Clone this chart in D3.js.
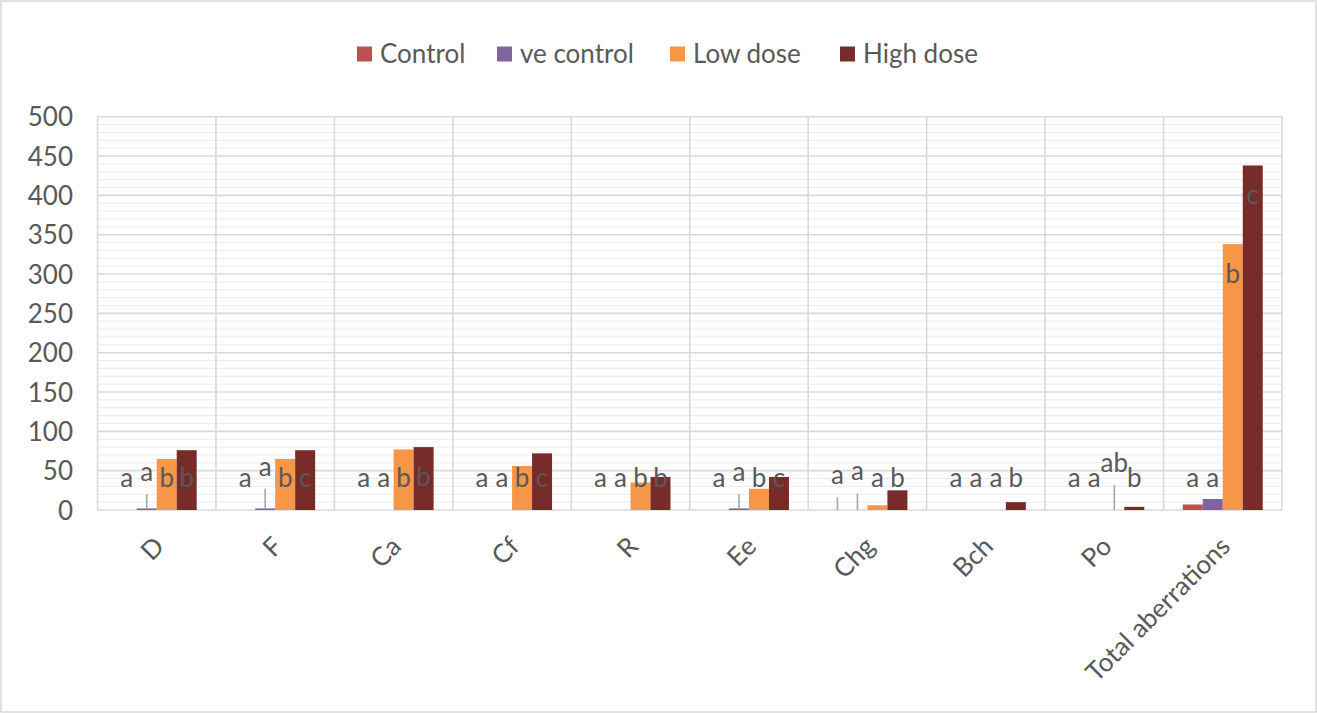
<!DOCTYPE html>
<html>
<head>
<meta charset="utf-8">
<script src="https://cdn.jsdelivr.net/npm/d3@7"></script>
<style>
  html, body { margin: 0; padding: 0; background: #fff; }
  svg { display: block; }
  text { font-family: Lato, "Open Sans", sans-serif; fill: #595959; }
</style>
</head>
<body>
<svg id="chart" width="1317" height="713"></svg>
<script>
// ---- data ----
const categories = ["D", "F", "Ca", "Cf", "R", "Ee", "Chg", "Bch", "Po", "Total aberrations"];
const seriesNames = ["Control", "ve control", "Low dose", "High dose"];
const control   = [0, 0, 0, 0, 0, 0, 0, 0, 0, 7];
const veControl = [2, 2, 0, 0, 0, 2, 0, 0, 0, 14];
const lowDose   = [65, 65, 77, 56, 35, 27, 6, 0, 0, 338];
const highDose  = [76, 76, 80, 72, 42, 42, 25, 10, 4, 438];
const controlErr   = [0, 0, 0, 0, 0, 0, 16, 0, 0, 0];
const veControlErr = [18, 25, 0, 0, 0, 18, 21, 0, 0, 0];
const lowDoseErr   = [0, 0, 0, 0, 0, 0, 0, 0, 32, 0];
const highDoseErr  = [0, 0, 0, 0, 0, 0, 0, 0, 0, 0];
const controlLetters   = ["a", "a", "a", "a", "a", "a", "a", "a", "a", "a"];
const veControlLetters = ["a", "a", "a", "a", "a", "a", "a", "a", "a", "a"];
const lowDoseLetters   = ["b", "b", "b", "b", "b", "b", "a", "a", "ab", "b"];
const highDoseLetters  = ["b", "c", "b", "c", "b", "c", "b", "b", "b", "c"];
const yTicks = [0, 50, 100, 150, 200, 250, 300, 350, 400, 450, 500];

const colors = ["#c0504d", "#8064a2", "#f79646", "#772c2a"];
const values = [control, veControl, lowDose, highDose];
const errs = [controlErr, veControlErr, lowDoseErr, highDoseErr];
const letters = [controlLetters, veControlLetters, lowDoseLetters, highDoseLetters];

// ---- layout ----
const W = 1317, H = 713;
const plotL = 97.5, plotR = 1282, plotT = 116.7, plotB = 510;
const FS = "26px";
const svg = d3.select("#chart");

svg.append("rect").attr("x", 1).attr("y", 1).attr("width", W - 2).attr("height", H - 2)
  .attr("fill", "#fff").attr("stroke", "#d9d9d9").attr("stroke-width", 1.5);

const y = d3.scaleLinear().domain([0, 500]).range([plotB, plotT]);
const x0 = d3.scaleBand().domain(categories).range([plotL, plotR]).padding(0);
const bw = x0.bandwidth();
const x1 = d3.scaleBand().domain(seriesNames).range([bw * 0.1625, bw * 0.8375]).padding(0);

const g = svg.append("g");

// minor gridlines
g.selectAll("line.minor").data(d3.range(10, 500, 10).filter(v => v % 50 !== 0))
  .enter().append("line")
  .attr("x1", plotL).attr("x2", plotR)
  .attr("y1", d => y(d)).attr("y2", d => y(d))
  .attr("stroke", "#ebebeb").attr("stroke-width", 1);

// major gridlines
g.selectAll("line.major").data(yTicks)
  .enter().append("line")
  .attr("x1", plotL).attr("x2", plotR)
  .attr("y1", d => y(d)).attr("y2", d => y(d))
  .attr("stroke", "#d9d9d9").attr("stroke-width", 1.6);

// vertical gridlines
g.selectAll("line.vert").data(categories.map(c => x0(c)).concat([plotR]))
  .enter().append("line")
  .attr("x1", d => d).attr("x2", d => d)
  .attr("y1", plotT).attr("y2", plotB)
  .attr("stroke", "#d9d9d9").attr("stroke-width", 1.6);

// y axis labels
const yAxis = d3.axisLeft(y).tickValues(yTicks).tickSize(0).tickPadding(0);
const ya = svg.append("g").attr("transform", `translate(73,0)`).call(yAxis);
ya.select(".domain").remove();
ya.selectAll("text").style("font-size", FS).attr("fill", "#595959")
  .style("font-family", "Lato, sans-serif").attr("dy", "0.35em");

// bars
const flat = [];
categories.forEach((c, i) => {
  seriesNames.forEach((s, k) => {
    flat.push({ c, s, k, v: values[k][i], e: errs[k][i], l: letters[k][i] });
  });
});

g.selectAll("rect.bar").data(flat).enter().append("rect")
  .attr("x", d => x0(d.c) + x1(d.s))
  .attr("width", x1.bandwidth())
  .attr("y", d => y(d.v))
  .attr("height", d => y(0) - y(d.v))
  .attr("fill", d => colors[d.k]);

// error bars
g.selectAll("line.err").data(flat.filter(d => d.e > 0)).enter().append("line")
  .attr("x1", d => x0(d.c) + x1(d.s) + x1.bandwidth() / 2)
  .attr("x2", d => x0(d.c) + x1(d.s) + x1.bandwidth() / 2)
  .attr("y1", d => y(d.v))
  .attr("y2", d => y(d.v + d.e))
  .attr("stroke", "#a6a6a6").attr("stroke-width", 1.6);

// letter labels
g.selectAll("text.lbl").data(flat).enter().append("text")
  .attr("x", d => x0(d.c) + x1(d.s) + x1.bandwidth() / 2)
  .attr("y", d => d.e > 0 ? y(d.v + d.e) - 13 : Math.min(y(0) - 23, y(d.v) + 39))
  .attr("text-anchor", "middle")
  .style("font-size", FS)
  .text(d => d.l);

// x labels
svg.selectAll("text.xl").data(categories).enter().append("text")
  .attr("text-anchor", "end")
  .attr("transform", d => `translate(${x0(d) + bw / 2 + 9},${548}) rotate(-45)`)
  .style("font-size", FS)
  .text(d => d);

// legend
const legX = [357, 497, 670, 840];
const leg = svg.selectAll("g.leg").data(seriesNames).enter().append("g")
  .attr("transform", (d, i) => `translate(${legX[i]},54)`);
leg.append("rect").attr("x", 0).attr("y", -7.5).attr("width", 15).attr("height", 15)
  .attr("fill", (d, i) => colors[i]);
leg.append("text").attr("x", 23).attr("y", 0).attr("dy", "0.35em")
  .style("font-size", FS).text(d => d);
</script>
</body>
</html>
